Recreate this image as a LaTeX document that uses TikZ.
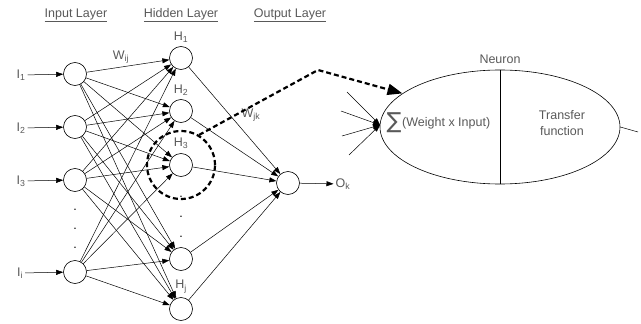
\documentclass[tikz,border=0pt]{standalone}
\usepackage{fontspec}
\setmainfont{Liberation Sans}
\newfontfamily\symfont{DejaVu Sans}
\usetikzlibrary{arrows.meta, shapes.geometric}

\begin{document}
\begin{tikzpicture} [x=1pt, y=-1pt, font=\fontsize{12.5}{16}\selectfont,
    unit/.style={circle, draw, line width=0.6pt, minimum size=23pt, inner sep=0pt},
    lbl/.style={text=black!65, inner sep=2pt},
    link/.style={-{Triangle[length=7pt, width=5pt]}, line width=0.5pt},
    zoomline/.style={line width=2.2pt, dash pattern=on 5pt off 3pt}]
    \useasboundingbox (0,0) rectangle (641,324);
    % layer titles
    \node [lbl] at (76,15) {\underline{Input Layer}};
    \node [lbl] at (181,15) {\underline{Hidden Layer}};
    \node [lbl] at (290,15) {\underline{Output Layer}};
    % input layer
    \node (i1) [unit] at (75,74) {};
    \node (i2) [unit] at (75,127) {};
    \node (i3) [unit] at (75,180) {};
    \node (ii) [unit] at (75,272) {};
    \node (l1) [lbl] at (21,75) {I\textsubscript{1}};
    \node (l2) [lbl] at (21,128) {I\textsubscript{2}};
    \node (l3) [lbl] at (21,181) {I\textsubscript{3}};
    \node (li) [lbl] at (20,273) {I\textsubscript{i}};
    \node at (75,210) {.};
    \node at (75,229) {.};
    \node at (75,248) {.};
    % hidden layer
    \node (h1) [unit, label={[lbl, label distance=2pt]above:H\textsubscript{1}}] at (181,58) {};
    \node (h2) [unit, label={[lbl, label distance=2pt]above:H\textsubscript{2}}] at (181,111) {};
    \node (h3) [unit, label={[lbl, label distance=2pt]above:H\textsubscript{3}}] at (181,165) {};
    \node (h4) [unit] at (181,259) {};
    \node (hj) [unit, label={[lbl, label distance=2pt]above:H\textsubscript{j}}] at (181,309) {};
    \node at (181,197) {.};
    \node at (181,217) {.};
    \node at (181,237) {.};
    % output layer
    \node (out) [unit] at (288,183) {};
    \node (ok) [lbl] at (343,184) {O\textsubscript{k}};
    \node [lbl] at (121,57) {W\textsubscript{ij}};
    \node [lbl] at (251,115) {W\textsubscript{jk}};
    \draw [link] (l1) -- (i1);
    \draw [link] (l2) -- (i2);
    \draw [link] (l3) -- (i3);
    \draw [link] (li) -- (ii);
    \draw [link] (out) -- (ok);
    \path [link]
    (i1) edge (h1)  (i1) edge (h2)  (i1) edge (h3)  (i1) edge (h4)  (i1) edge (hj)
    (i2) edge (h1)  (i2) edge (h2)  (i2) edge (h3)  (i2) edge (h4)  (i2) edge (hj)
    (i3) edge (h1)  (i3) edge (h2)  (i3) edge (h3)  (i3) edge (h4)  (i3) edge (hj)
    (ii) edge (h1)  (ii) edge (h2)  (ii) edge (h3)  (ii) edge (h4)  (ii) edge (hj)
    (h1) edge (out) (h2) edge (out) (h3) edge (out) (h4) edge (out) (hj) edge (out);
    % zoom on one neuron
    \node (h3zoom) [circle, draw, zoomline, minimum size=68pt] at (181,165) {};
    \node (neuron) [ellipse, draw, line width=0.6pt, minimum width=240pt, minimum height=114pt,
        label={[lbl, label distance=4pt]above:Neuron}] at (500,127) {};
    \draw [line width=0.6pt] (neuron.north) -- (neuron.south);
    \coordinate (bend) at (318,70);
    \draw [zoomline, -{Triangle[length=15pt, width=11pt]}] (h3zoom.59) -- (bend) -- (neuron.161);
    \node (sigma) [lbl, inner sep=0pt] at (394,123) {\symfont\fontsize{22}{22}\selectfont ∑};
    \node (wsum) [lbl, anchor=west, inner sep=0pt] at (402,123) {(Weight x Input)};
    \node (tf) [lbl, align=center] at (562,123) {Transfer\\function};
    \coordinate (nin) at (380,125);
    \coordinate (in1) at (347,92);
    \coordinate (in2) at (341,111);
    \coordinate (in3) at (342,136);
    \coordinate (in4) at (349,155);
    \coordinate (nout) at (638,132);
    \draw [link] (in1) -- (nin);
    \draw [link] (in2) -- (nin);
    \draw [link] (in3) -- (nin);
    \draw [link] (in4) -- (nin);
    \draw [line width=0.5pt] (neuron.east) -- (nout);
\end{tikzpicture}
\end{document}
